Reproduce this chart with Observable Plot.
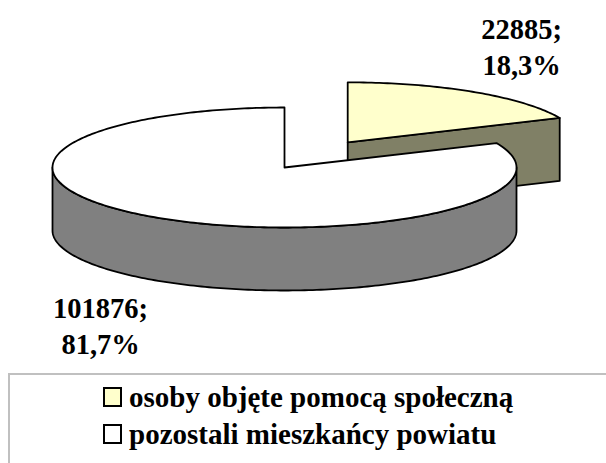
<!DOCTYPE html>
<html><head><meta charset="utf-8">
<script src="https://cdn.jsdelivr.net/npm/d3@7"></script>
<script src="https://cdn.jsdelivr.net/npm/@observablehq/plot@0.6"></script>
<style>
body{margin:0;background:#fff;width:606px;height:463px;overflow:hidden;position:relative;font-family:'Liberation Serif','Times New Roman',Times,'DejaVu Serif',serif;}
#chart{position:absolute;left:0;top:0;}
#legend{position:absolute;left:7.5px;top:373px;width:700px;height:200px;border-top:2px solid #c0c0c0;border-left:2px solid #c0c0c0;}
.item{position:absolute;left:93.5px;height:37px;line-height:37px;font-size:29px;font-weight:bold;white-space:nowrap;color:#000;}
.sw{position:absolute;left:0;top:8.5px;width:15px;height:16px;border:2px solid #000;}
.lbl{position:absolute;left:26px;top:0;}
</style></head><body><div id="chart"></div><div id="legend"></div>
<script>
// ---- data ----
const categories = ["osoby objęte pomocą społeczną", "pozostali mieszkańcy powiatu"];
const values = [22885, 101876];
const topColors = ["#FFFFCC", "#FFFFFF"];
const sideColors = ["#808066", "#808080"];
const explode = [0.5, 0];

// ---- layout ----
const W = 606, H = 372;
const cx = 284, cy = 167, rx = 232, ry = 60, depth = 63;
const FONT = "'Liberation Serif','Times New Roman',Times,'DejaVu Serif',serif";
const total = d3.sum(values);
const arcs = d3.pie().sort(null).value(d => d)(values);

const P = (c, t, z = 0) => ({x: c.x + rx * Math.sin(t), y: c.y - ry * Math.cos(t) + z});
function arcPts(c, a0, a1, z) {
  const n = Math.max(2, Math.ceil(Math.abs(a1 - a0) / (Math.PI / 180)));
  return d3.range(n + 1).map(i => P(c, a0 + (a1 - a0) * i / n, z));
}

const slices = arcs.map((a, i) => {
  const mid = (a.startAngle + a.endAngle) / 2;
  const c = {x: cx + explode[i] * rx * Math.sin(mid), y: cy - explode[i] * ry * Math.cos(mid)};
  return {i, a, mid, c};
});
// paint back slices first
const order = slices.slice().sort((p, q) => Math.cos(q.mid) - Math.cos(p.mid));

const shapes = [];
for (const s of order) {
  const {c, a, i} = s;
  const faces = [[a.startAngle, a.startAngle - Math.PI / 2], [a.endAngle, a.endAngle + Math.PI / 2]];
  for (const [t, phi] of faces) {
    if (Math.cos(phi) < -1e-6) {
      const pts = [{x: c.x, y: c.y}, P(c, t, 0), P(c, t, depth), {x: c.x, y: c.y + depth}];
      shapes.push({pts, fill: sideColors[i]});
    }
  }
  const s0 = Math.max(a.startAngle, Math.PI / 2), s1 = Math.min(a.endAngle, 3 * Math.PI / 2);
  if (s1 > s0) {
    const pts = arcPts(c, s0, s1, 0).concat(arcPts(c, s1, s0, depth));
    shapes.push({pts, fill: sideColors[i]});
  }
  const pts = [{x: c.x, y: c.y}].concat(arcPts(c, a.startAngle, a.endAngle, 0));
  shapes.push({pts, fill: topColors[i]});
}
shapes.forEach(sh => sh.pts.push(sh.pts[0]));

const labels = slices.map(s => {
  const up = Math.cos(s.mid) > 0;
  const pct = (values[s.i] / total * 100).toFixed(1).replace(".", ",");
  return {
    x: s.c.x + 1.415 * rx * Math.sin(s.mid),
    y: s.c.y - 1.28 * ry * Math.cos(s.mid) + (up ? 0 : depth),
    text: `${values[s.i]};\n${pct}%`,
    up
  };
});

const textOpts = {x: "x", y: "y", text: "text", textAnchor: "middle", fontSize: 28.5, fontWeight: "bold",
  fontFamily: FONT, lineHeight: 1.27, fill: "#000", dx: -5, dy: -2.5};

const chart = Plot.plot({
  width: W, height: H,
  margin: 0,
  x: {domain: [0, W], range: [0, W], axis: null},
  y: {domain: [0, H], range: [0, H], axis: null},
  style: {background: "#fff", overflow: "visible", fontFamily: FONT},
  marks: [
    ...shapes.map(sh => Plot.line(sh.pts, {x: "x", y: "y", fill: sh.fill, stroke: "#000", strokeWidth: 1.8, strokeLinejoin: "round", curve: "linear"})),
    Plot.text(labels.filter(d => d.up), {...textOpts, lineAnchor: "bottom"}),
    Plot.text(labels.filter(d => !d.up), {...textOpts, lineAnchor: "top"})
  ]
});
document.getElementById("chart").appendChild(chart);

const legend = document.getElementById("legend");
categories.forEach((name, i) => {
  const row = document.createElement("div");
  row.className = "item";
  row.style.top = (3.7 + i * 37) + "px";
  const sw = document.createElement("span");
  sw.className = "sw";
  sw.style.background = topColors[i];
  const lb = document.createElement("span");
  lb.className = "lbl";
  lb.textContent = name;
  row.appendChild(sw); row.appendChild(lb);
  legend.appendChild(row);
});
</script></body></html>
